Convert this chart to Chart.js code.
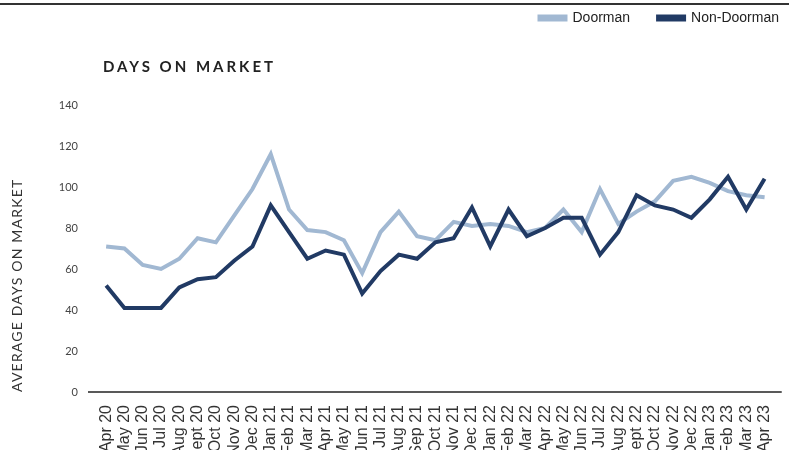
<!DOCTYPE html>
<html>
<head>
<meta charset="utf-8">
<script src="https://cdn.jsdelivr.net/npm/chart.js@4"></script>
<style>
  html, body { margin: 0; padding: 0; background: #fff; overflow: hidden; }
  #wrap { position: relative; width: 789px; height: 450px; overflow: hidden; }
  #topRule { position: absolute; left: 0; top: 3px; width: 789px; height: 2px; background: #333; }
  #chart { position: absolute; left: 0; top: 0; }
</style>
</head>
<body>
<div id="wrap">
  <div id="topRule"></div>
  <canvas id="chart" width="789" height="470"></canvas>
</div>
<script>
/* Days on market: doorman vs non-doorman, Apr 2020 - Apr 2023 */

const months = [
  'Apr 20','May 20','Jun 20','Jul 20','Aug 20','Sept 20','Oct 20','Nov 20','Dec 20',
  'Jan 21','Feb 21','Mar 21','Apr 21','May 21','Jun 21','Jul 21','Aug 21','Sep 21','Oct 21','Nov 21','Dec 21',
  'Jan 22','Feb 22','Mar 22','Apr 22','May 22','Jun 22','Jul 22','Aug 22','Sept 22','Oct 22','Nov 22','Dec 22',
  'Jan 23','Feb 23','Mar 23','Apr 23'
];

const doorman = [
  71, 70, 62, 60, 65, 75, 73, 86, 99,
  116, 89, 79, 78, 74, 58, 78, 88, 76, 74, 83, 81,
  82, 81, 78, 80, 89, 78, 99, 82, 88, 93, 103, 105,
  102, 98, 96, 95
];

const nonDoorman = [
  52, 41, 41, 41, 51, 55, 56, 64, 71,
  91, 78, 65, 69, 67, 48, 59, 67, 65, 73, 75, 90,
  71, 89, 76, 80, 85, 85, 67, 78, 96, 91, 89, 85,
  94, 105, 89, 104
];

const yTicks = [0, 20, 40, 60, 80, 100, 120, 140];

const LIGHT = '#a1b8d2';
const DARK = '#213a64';

Chart.defaults.font.family = 'Lato, "Open Sans", sans-serif';
Chart.defaults.color = '#333';

/* canvas has no css letter-spacing, so set it on the context around a few text draws */
const letterSpacing = {
  id: 'letterSpacing',
  beforeDraw(chart) {
    const wrap = (obj, fn, sp, dx) => {
      if (!obj || obj['_ls_' + fn]) return;
      const orig = obj[fn];
      obj[fn] = function(...args) {
        const c = this.ctx;
        c.save();
        c.letterSpacing = sp;
        if (dx) c.translate(dx, 0);
        orig.apply(this, args);
        c.restore();
      };
      obj['_ls_' + fn] = true;
    };
    wrap(chart.titleBlock, 'draw', '3px', 6);   // title sits a bit inside the plot edge
    wrap(chart.scales.y, 'drawTitle', '1.2px', 0);
  }
};

/* x axis rule runs a little past the plot on both sides */
const axisRule = {
  id: 'axisRule',
  afterDatasetsDraw(chart) {
    const {ctx, scales: {x, y}} = chart;
    const yy = y.getPixelForValue(0);
    ctx.save();
    ctx.strokeStyle = '#222';
    ctx.lineWidth = 1.5;
    ctx.beginPath();
    ctx.moveTo(x.left - 9, yy);
    ctx.lineTo(x.right + 8, yy);
    ctx.stroke();
    ctx.restore();
  }
};

new Chart(document.getElementById('chart'), {
  type: 'line',
  data: {
    labels: months,
    datasets: [
      {
        label: 'Non-Doorman',
        data: nonDoorman,
        borderColor: DARK,
        backgroundColor: DARK,
        borderWidth: 4,
        pointRadius: 0,
        tension: 0
      },
      {
        label: 'Doorman',
        data: doorman,
        borderColor: LIGHT,
        backgroundColor: LIGHT,
        borderWidth: 4,
        pointRadius: 0,
        tension: 0
      }
    ]
  },
  options: {
    responsive: false,
    animation: false,
    // negative pads eat the extra legend padding used for item spacing
    layout: { padding: { top: -17, left: 0, right: -18, bottom: 0 } },
    plugins: {
      tooltip: { enabled: false },
      legend: {
        position: 'top',
        align: 'end',
        reverse: true,
        weight: 3000,
        labels: {
          boxWidth: 26,
          boxHeight: 3,
          padding: 28,
          color: '#222',
          font: { family: '"Liberation Sans", Arial, sans-serif', size: 14 }
        }
      },
      title: {
        display: true,
        text: 'DAYS ON MARKET',
        align: 'start',
        fullSize: false,
        color: '#222',
        font: { size: 15, weight: 'bold' },
        padding: { top: 23, bottom: 29 }
      }
    },
    scales: {
      x: {
        offset: true,
        grid: { display: false },
        border: { display: false },
        ticks: {
          autoSkip: false,
          minRotation: 90,
          maxRotation: 90,
          padding: 5,
          color: '#333',
          font: { family: '"Liberation Sans", Arial, sans-serif', size: 16 }
        },
        afterFit(s) { s.height = 78; }
      },
      y: {
        min: 0,
        max: 140,
        grid: { display: false, drawTicks: false },
        border: { display: false },
        afterBuildTicks(s) { s.ticks = yTicks.map(v => ({ value: v })); },
        ticks: {
          padding: 19,
          color: '#444',
          font: { size: 11 }
        },
        title: {
          display: true,
          text: 'AVERAGE DAYS ON MARKET',
          align: 'start',
          color: '#333',
          font: { size: 14 },
          padding: { top: 9, bottom: 0 }
        },
        afterFit(s) { s.width = 97; }
      },
      y2: {
        position: 'right',
        grid: { display: false },
        border: { display: false },
        ticks: { display: false },
        afterFit(s) { s.width = 32; }
      }
    }
  },
  plugins: [letterSpacing, axisRule]
});
</script>
</body>
</html>
